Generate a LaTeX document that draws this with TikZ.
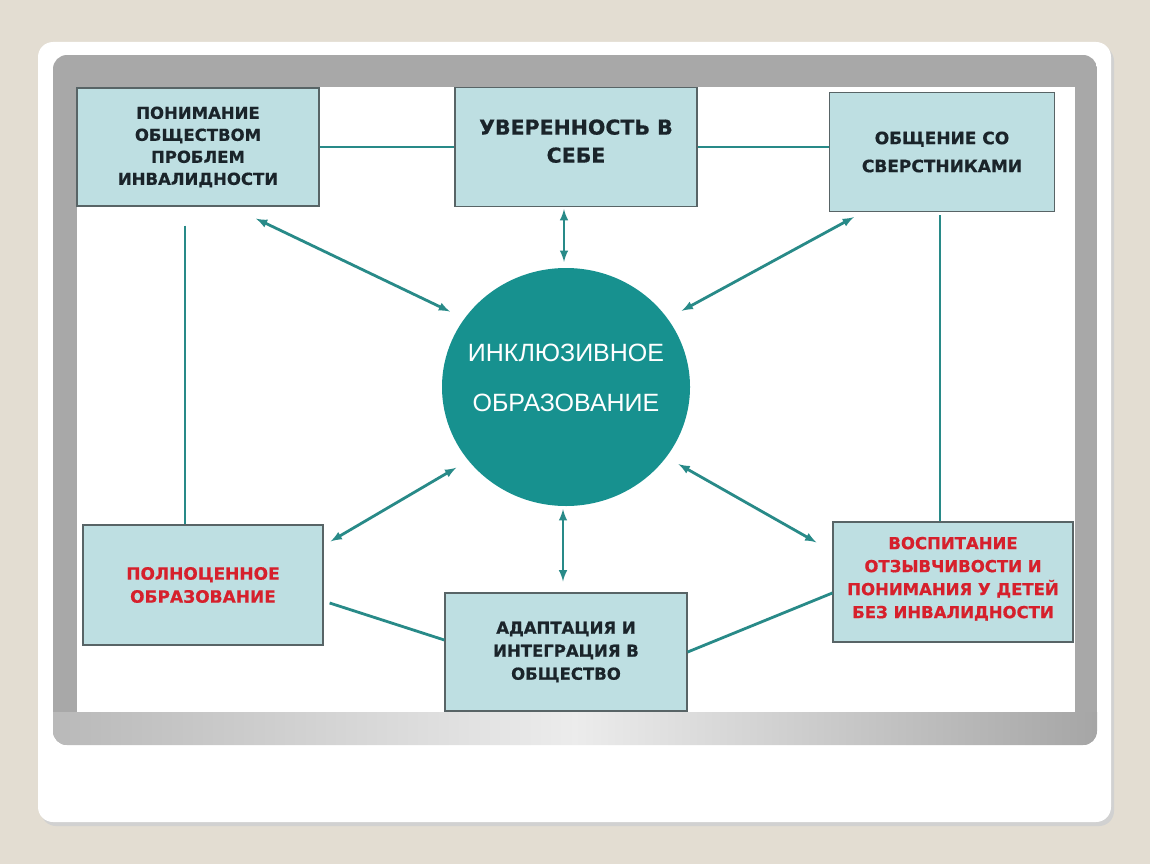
\documentclass[tikz,border=0pt]{standalone}
\usepackage{fontspec}
\setmainfont{Liberation Sans}
\newfontfamily\boxfont{DejaVu Sans Bold}[FakeBold=0.6]
\usetikzlibrary{shapes.geometric}

\definecolor{pagebeige}{RGB}{227,221,210}
\definecolor{framegray}{RGB}{168,168,168}
\definecolor{boxfill}{RGB}{190,223,226}
\definecolor{boxedge}{RGB}{88,100,102}
\definecolor{boxtext}{RGB}{26,36,42}
\definecolor{redtext}{RGB}{214,32,44}
\definecolor{linkteal}{RGB}{40,138,136}
\definecolor{hubteal}{RGB}{23,145,143}

\begin{document}
\begin{tikzpicture}[x=1pt,y=-1pt,
  box/.style={draw=boxedge, fill=boxfill, line width=1.3pt, inner sep=0pt, align=center,
    text=boxtext, font=\boxfont\fontsize{16.5}{23}\selectfont},
  hub/.style={ellipse, fill=hubteal, inner sep=0pt, minimum width=248pt, minimum height=238pt},
  hubtext/.style={align=center, text=white, font=\fontsize{25}{50}\selectfont},
  link/.style={draw=linkteal, line width=2.8pt},
  dual/.style={link, <->, >=latex}]
% Slide background
\useasboundingbox (0,0) rectangle (1150,864);
\fill[pagebeige] (0,0) rectangle (1150,864);
\fill[black!18, rounded corners=15] (41,46) rectangle (1114,826); % shadow
\fill[white, rounded corners=15] (38,42) rectangle (1111,822);
\begin{scope}
  \clip[rounded corners=14] (53,55) rectangle (1097,745);
  \fill[framegray] (53,55) rectangle (1097,745);
  \shade[left color=gray!55, right color=gray!70, middle color=gray!15] (53,712) rectangle (1097,745);
\end{scope}
\fill[white] (77,87) rectangle (1075,712);

% Boxes
\node[box, minimum width=242pt, minimum height=118pt, font=\boxfont\fontsize{16.5}{22}\selectfont] (society) at (198,147)
  {ПОНИМАНИЕ\\ОБЩЕСТВОМ\\ПРОБЛЕМ\\ИНВАЛИДНОСТИ};
\node[box, minimum width=242pt, minimum height=119pt, text depth=12pt, font=\boxfont\fontsize{20.5}{28}\selectfont] (confidence) at (576,147)
  {УВЕРЕННОСТЬ В\\СЕБЕ};
\node[box, minimum width=225pt, minimum height=119pt, font=\boxfont\fontsize{17}{28}\selectfont] (peers) at (942,152)
  {ОБЩЕНИЕ СО\\СВЕРСТНИКАМИ};
\node[box, text=redtext, minimum width=240pt, minimum height=120pt, font=\boxfont\fontsize{17}{23}\selectfont] (fulledu) at (203,585)
  {ПОЛНОЦЕННОЕ\\ОБРАЗОВАНИЕ};
\node[box, minimum width=242pt, minimum height=118pt] (adapt) at (566,652)
  {АДАПТАЦИЯ И\\ИНТЕГРАЦИЯ В\\ОБЩЕСТВО};
\node[box, text=redtext, minimum width=240pt, minimum height=120pt, text depth=9pt] (empathy) at (953,582)
  {ВОСПИТАНИЕ\\ОТЗЫВЧИВОСТИ И\\ПОНИМАНИЯ У ДЕТЕЙ\\БЕЗ ИНВАЛИДНОСТИ};

% Centre
\node[hub, label={[hubtext, yshift=9pt]center:ИНКЛЮЗИВНОЕ\\ОБРАЗОВАНИЕ}] (hub) at (566,387) {};

% Plain links
\draw[link] (society.east) -- (confidence.west);
\draw[link] (confidence.east) -- (confidence.east -| peers.west);
\draw[link] ([xshift=-13pt,yshift=-19pt]society.south) coordinate (lv) -- (lv |- fulledu.north);
\draw[link] ([xshift=-2pt,yshift=-3pt]peers.south) coordinate (rv) -- (rv |- empathy.north);
\draw[link] ([shift={(6pt,-18pt)}]fulledu.east) -- ([yshift=12pt]adapt.west);
\draw[link] (adapt.east) -- ([yshift=-11pt]empathy.west);

% Arrows to the centre
\draw[dual, shorten >=16pt] ([shift={(58pt,-12pt)}]society.south) -- (hub.146);
\draw[dual, shorten >=6pt] ([shift={(-12pt,-2pt)}]confidence.south) coordinate (ta) -- (ta |- hub.north);
\draw[dual, shorten >=16pt] ([shift={(25pt,-5pt)}]peers.south west) -- (hub.34);
\draw[dual, shorten >=14pt] ([shift={(7pt,-17pt)}]fulledu.north east) -- (hub.217);
\draw[dual, shorten >=3pt] ([shift={(-3pt,11pt)}]adapt.north) coordinate (ba) -- (ba |- hub.south);
\draw[dual, shorten >=14pt] ([shift={(-16pt,-21pt)}]empathy.north west) -- (hub.325);
\end{tikzpicture}
\end{document}
